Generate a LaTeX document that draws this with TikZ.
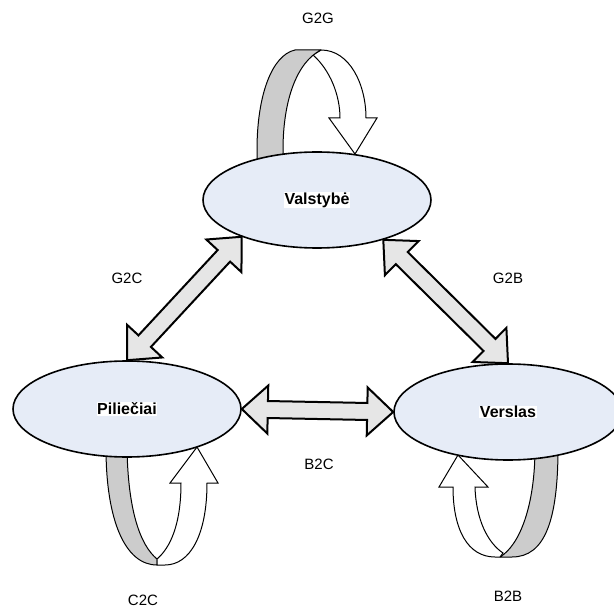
\documentclass[tikz,border=0pt]{standalone}
\usepackage{fontspec}
\setmainfont{Liberation Sans}
\usepackage{tikz}
\usetikzlibrary{calc,positioning,shapes.geometric}

\definecolor{ellblue}{RGB}{230,236,247}
\definecolor{bandgray}{RGB}{204,204,204}
\definecolor{arrgray}{RGB}{230,230,230}

\newcommand{\hl}[1]{{\setlength{\fboxsep}{0.6pt}\colorbox{white}{#1}}}
% block arrow with two heads, from node anchor to node anchor
\newcommand{\dblarrow}[2]{%
\path ($(#1)!26pt!(#2)$) coordinate (p) ($(#2)!26pt!(#1)$) coordinate (q);
\filldraw[twohead] (#1) -- ($(p)!24pt!90:(#2)$) -- ($(p)!8.5pt!90:(#2)$)
  -- ($(q)!8.5pt!-90:(#1)$) -- ($(q)!24pt!-90:(#1)$) -- (#2)
  -- ($(q)!24pt!90:(#1)$) -- ($(q)!8.5pt!90:(#1)$)
  -- ($(p)!8.5pt!-90:(#2)$) -- ($(p)!24pt!-90:(#2)$) -- cycle;}

\begin{document}
\begin{tikzpicture}[x=1pt,y=-1pt,
  state/.style={ellipse,draw=black,line width=1.6pt,fill=ellblue,
    minimum width=228pt,minimum height=96pt,inner sep=0pt,
    font=\fontsize{16}{19}\selectfont\bfseries},
  lbl/.style={font=\fontsize{15}{18}\selectfont},
  band/.style={fill=bandgray,draw=black,line width=1pt,line join=round},
  turn/.style={fill=white,draw=black,line width=1pt,line join=miter},
  twohead/.style={fill=arrgray,draw=black,line width=2pt,line join=miter}]
\useasboundingbox (0,0) rectangle (614,607);

% G2G
\filldraw[turn] (321,50) .. controls (350,50) and (366,85) .. (366,118) -- (377,118) -- (355,154)
  -- (329,118) -- (340,118) .. controls (340,95) and (330,70) .. (313,55) -- cycle;
\filldraw[band] (257,165) -- (257,150) .. controls (257,95) and (272,55) .. (295,50) -- (321,50)
  .. controls (297,62) and (283,100) .. (283,150) -- (283,165) -- cycle;

% C2C
\filldraw[band] (106,448) .. controls (106,520) and (125,565) .. (157,565) -- (157,559)
  .. controls (140,545) and (128,510) .. (127,448) -- cycle;
\filldraw[turn] (157,559) .. controls (170,548) and (181,525) .. (181,483) -- (170,483) -- (197,447)
  -- (218,483) -- (207,483) .. controls (207,535) and (190,565) .. (165,565) -- (157,565) -- cycle;

% B2B
\filldraw[band] (558,448) .. controls (558,520) and (545,557) .. (512,557) -- (500,557)
  .. controls (520,545) and (535,505) .. (535,448) -- cycle;
\filldraw[turn] (458,455) -- (488,487) -- (475,487) .. controls (476,520) and (488,543) .. (503,553)
  -- (500,557) -- (495,557) .. controls (468,557) and (453,530) .. (453,487) -- (439,487) -- cycle;

\node[state] (val) at (317,200) {\hl{Valstybė}};
\node[state] (pil) at (127,409) {\hl{Piliečiai}};
\node[state] (ver) at (508,412) {\hl{Verslas}};

\dblarrow{val.206}{pil.north}
\dblarrow{val.-31}{ver.north}
\dblarrow{pil.east}{ver.west}

\node[lbl] (g2g) at (318,18) {G2G};
\node[lbl] (g2c) at (127,278) {G2C};
\node[lbl] (g2b) at (508,278) {G2B};
\node[lbl] (b2c) at (319,464) {B2C};
\node[lbl] (c2c) at (143,600) {C2C};
\node[lbl] (b2b) at (508,596) {B2B};

\end{tikzpicture}
\end{document}
